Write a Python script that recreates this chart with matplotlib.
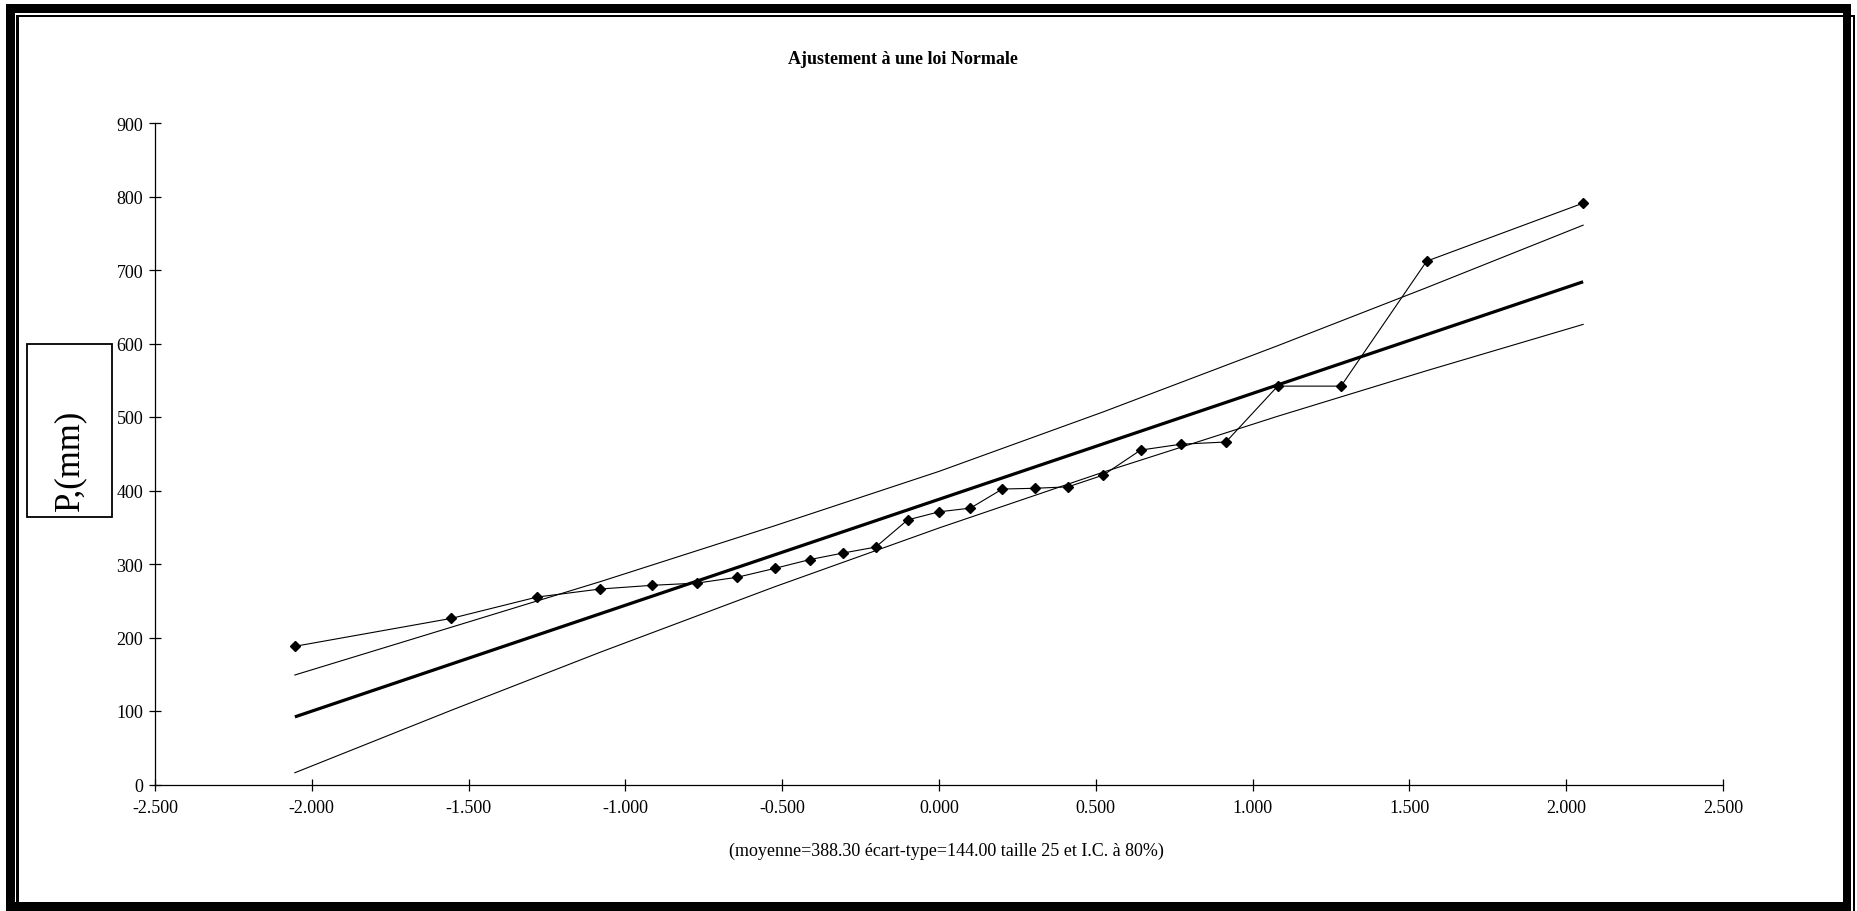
import matplotlib.pyplot as plt
from matplotlib.patches import Rectangle

# Observed sample: normal quantiles (Hazen) and precipitation P (mm)
z_obs = [-2.054, -1.555, -1.282, -1.080, -0.915, -0.772, -0.643, -0.524, -0.412,
         -0.305, -0.202, -0.100, 0.000, 0.100, 0.202, 0.305, 0.412, 0.524,
         0.643, 0.772, 0.915, 1.080, 1.282, 1.555, 2.054]
p_obs = [188, 226, 255, 266, 271, 274, 282, 294, 306, 315, 323, 360, 371,
         376, 402, 403, 405, 421, 455, 463, 466, 542, 542, 712, 791]

# Fitted normal line
z_fit = [-2.054, 2.054]
p_fit = [92, 684]

# 80% confidence interval
z_ci = [-2.054, -1.555, -1.080, -0.524, 0.000, 0.524, 1.080, 1.555, 2.054]
ci_upper = [149, 214, 276, 352, 426, 507, 597, 676, 761]
ci_lower = [16, 101, 180, 269, 349, 425, 501, 563, 626]

x_ticks = [-2.5, -2.0, -1.5, -1.0, -0.5, 0.0, 0.5, 1.0, 1.5, 2.0, 2.5]
y_ticks = [0, 100, 200, 300, 400, 500, 600, 700, 800, 900]

title = "Ajustement à une loi Normale"
x_label = "(moyenne=388.30 écart-type=144.00 taille 25 et I.C. à 80%)"
y_label = "P,(mm)"

plt.rcParams['font.family'] = ['Liberation Serif', 'DejaVu Serif']

W, H = 1858, 912
fig = plt.figure(figsize=(W / 100, H / 100), dpi=100)
ax = fig.add_axes([155 / W, 1 - 785.5 / H, (1723 - 155) / W, (785.5 - 124) / H])

ax.plot(z_ci, ci_upper, color='black', lw=0.8)
ax.plot(z_ci, ci_lower, color='black', lw=0.8)
ax.plot(z_fit, p_fit, color='black', lw=2.3, solid_capstyle='butt')
ax.plot(z_obs, p_obs, color='black', lw=0.8, marker='D', ms=5.5)

ax.set_xlim(-2.5, 2.5)
ax.set_ylim(0, 900)
ax.set_xticks(x_ticks)
ax.set_xticklabels([f"{v:.3f}" for v in x_ticks])
ax.set_yticks(y_ticks)
ax.set_yticklabels([str(v) for v in y_ticks])

for s in ['top', 'right']:
    ax.spines[s].set_visible(False)
for s in ['left', 'bottom']:
    ax.spines[s].set_linewidth(0.9)
ax.tick_params(axis='both', direction='inout', length=9, width=0.9, labelsize=13)
ax.tick_params(axis='x', pad=6)
ax.tick_params(axis='y', pad=4)

fig.text(903 / W, 1 - 60 / H, title, ha='center', va='center', fontsize=13, fontweight='bold')
fig.text(946 / W, 1 - 851 / H, x_label, ha='center', va='center', fontsize=13)
fig.text(70 / W, 1 - 460 / H, y_label, ha='center', va='center', rotation=90, fontsize=25)


# pixel rectangle helper (top-left origin)
def px_rect(x0, y0, x1, y1, filled=True, lw=0):
    r = Rectangle((x0 / W, 1 - y1 / H), (x1 - x0) / W, (y1 - y0) / H,
                  transform=fig.transFigure, facecolor='black' if filled else 'none',
                  edgecolor='black', lw=lw)
    fig.patches.append(r)


# y label box
px_rect(27, 345, 112, 518, filled=False, lw=1.3)

# double frame around the chart
px_rect(6, 5, 15, 912)
px_rect(6, 5, 1851, 14)
px_rect(1843, 5, 1851, 912)
px_rect(6, 903, 1851, 912)
px_rect(16, 15.5, 19, 903)
px_rect(16, 15.5, 1855, 18)
px_rect(1853, 15.5, 1855, 912)

fig.savefig('out.png', dpi=100, facecolor='white')
